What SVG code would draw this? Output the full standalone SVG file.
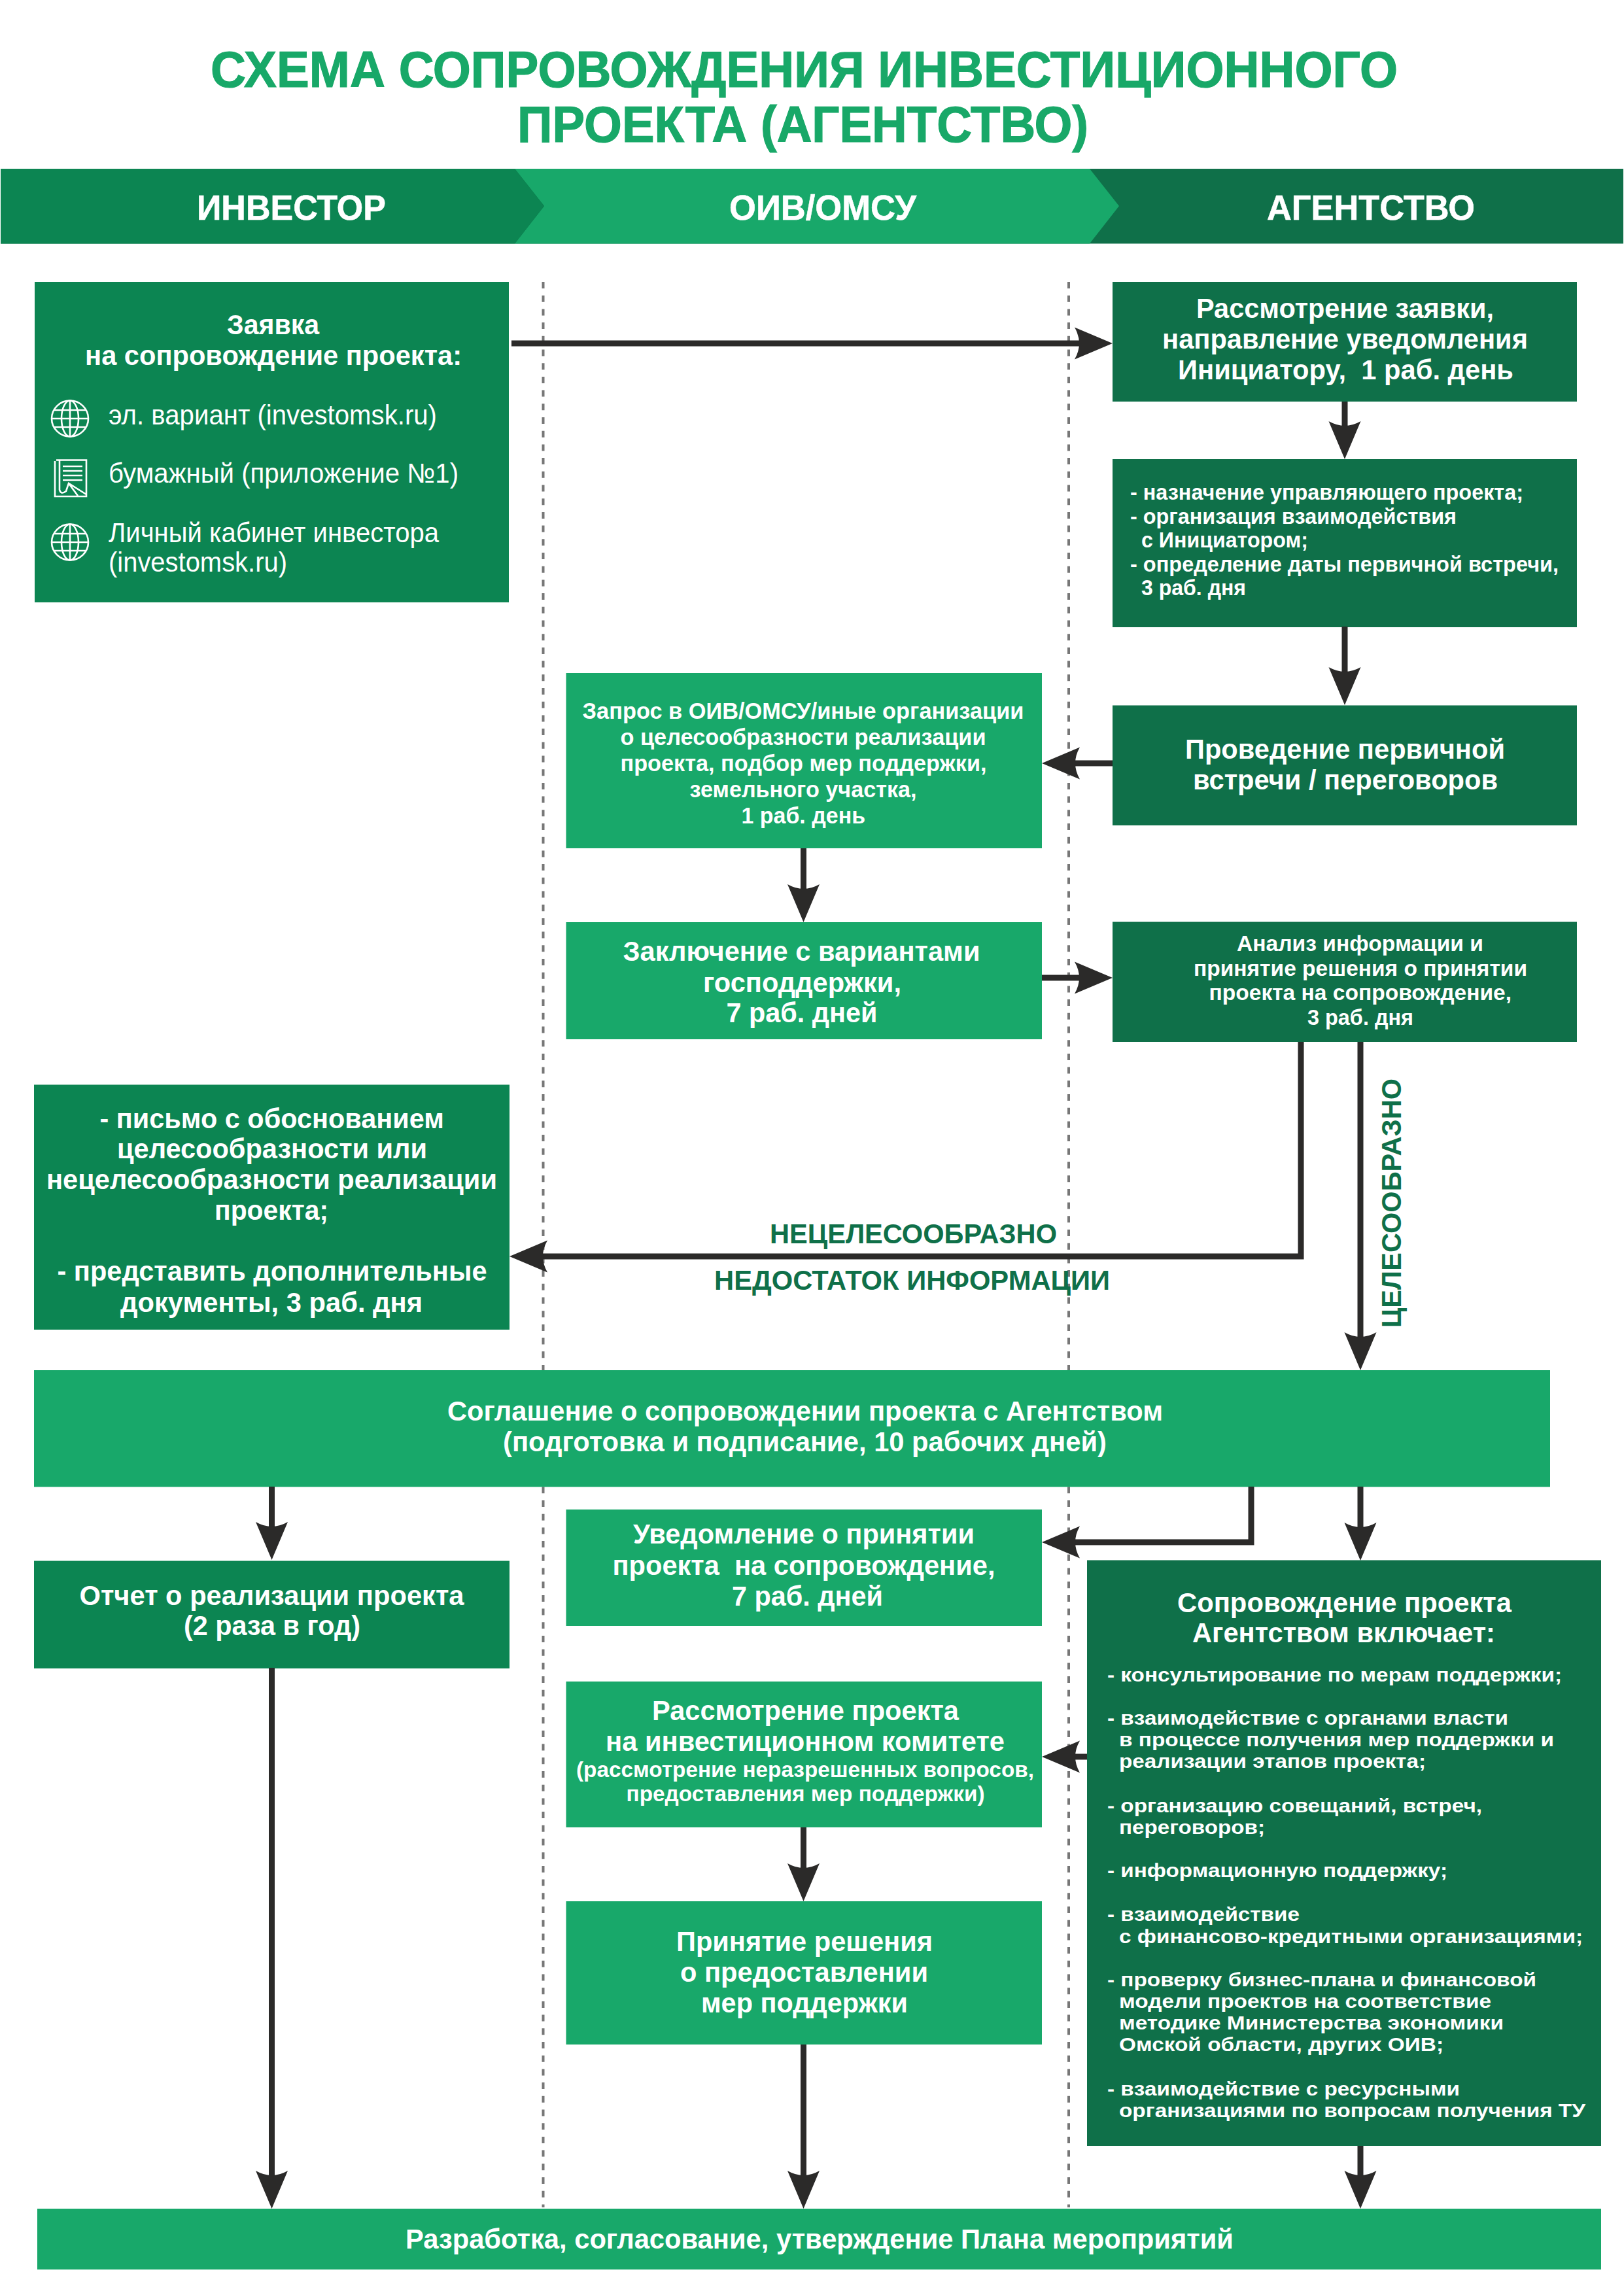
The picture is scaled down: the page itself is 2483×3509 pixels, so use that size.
<svg xmlns="http://www.w3.org/2000/svg" width="2483" height="3509" viewBox="0 0 2483 3509">
<style>
text{font-family:"Liberation Sans",Arial,sans-serif;font-weight:700;fill:#fff}
.title{font-size:77px;fill:#18a868;stroke:#18a868;stroke-width:1.2px}
.hd{font-size:54px;stroke:#fff;stroke-width:.6px}
.f43{font-size:43px}
.f42{font-size:42px}
.f35{font-size:35px}
.f33{font-size:33px}
.f30{font-size:30px}
.reg{font-size:42px;font-weight:400}
.lab{font-size:42px;fill:#0f7049}
.d1{fill:#0c8552}.d2{fill:#0f7049}.lt{fill:#18a86a}
.lane{stroke:#777;stroke-width:4;stroke-dasharray:10 10.7;fill:none}
.con{stroke:#2b2a29;stroke-width:9;fill:none;marker-end:url(#head)}
.ico{stroke:#fff;stroke-width:2.6;fill:none}
</style>
<defs>
<marker id="head" markerUnits="userSpaceOnUse" markerWidth="58" markerHeight="49" refX="12" refY="24.5" orient="auto" overflow="visible"><path d="M0,0L58,24.5L0,49Q14,24.5 0,0Z" fill="#2b2a29"/></marker>
<g id="globe"><ellipse cx="0" cy="0" rx="28" ry="27.5"/><ellipse cx="0" cy="0" rx="13" ry="27.5"/><path d="M0-27.5V27.5M-28,0H28M-24.5-13H24.5M-24.5,13H24.5"/></g>
</defs>
<rect width="2483" height="3509" fill="#fff"/>

<g id="title">
<text class="title" x="322" y="133" textLength="1815" lengthAdjust="spacingAndGlyphs">СХЕМА СОПРОВОЖДЕНИЯ ИНВЕСТИЦИОННОГО</text>
<text class="title" x="791" y="217" textLength="873" lengthAdjust="spacingAndGlyphs">ПРОЕКТА (АГЕНТСТВО)</text>
</g>

<g id="lanes">
<path class="lane" d="M830.5,431V3375"/>
<path class="lane" d="M1634,431V3375"/>
</g>

<g id="header">
<rect class="d2" x="1" y="258" width="2481" height="114.500"/>
<path class="lt" d="M787,258H1666L1711,315L1666,372.500H787L832,315Z"/>
<path class="d1" d="M1,258H787L832,315L787,372.500H1Z"/>
<text class="hd" x="301" y="336" textLength="289" lengthAdjust="spacingAndGlyphs">ИНВЕСТОР</text>
<text class="hd" x="1115" y="336" textLength="286" lengthAdjust="spacingAndGlyphs">ОИВ/ОМСУ</text>
<text class="hd" x="1937" y="336" textLength="318" lengthAdjust="spacingAndGlyphs">АГЕНТСТВО</text>
</g>

<g id="node-zayavka">
<rect class="d1" x="53" y="431" width="725" height="490"/>
<text class="f43" x="347" y="511" textLength="141" lengthAdjust="spacingAndGlyphs">Заявка</text>
<text class="f43" x="130" y="558" textLength="576" lengthAdjust="spacingAndGlyphs">на сопровождение проекта:</text>
<use href="#globe" class="ico" x="107" y="640"/>
<g class="ico"><path d="M86,703.500H132V759H84V705M91,703.500V749Q93,757 101,751L105,739L132,756M105,739L119,758"/><path d="M96,713H126M96,720H126M96,727H126M96,734H126"/></g>
<use href="#globe" class="ico" x="107" y="829"/>
<text class="reg" x="166" y="649" textLength="502" lengthAdjust="spacingAndGlyphs">эл. вариант (investomsk.ru)</text>
<text class="reg" x="166" y="738" textLength="535" lengthAdjust="spacingAndGlyphs">бумажный (приложение №1)</text>
<text class="reg" x="166" y="829" textLength="505" lengthAdjust="spacingAndGlyphs">Личный кабинет инвестора</text>
<text class="reg" x="166" y="874" textLength="273" lengthAdjust="spacingAndGlyphs">(investomsk.ru)</text>
</g>

<g id="node-rassmotrenie-zayavki">
<rect class="d2" x="1701" y="431" width="710" height="183"/>
<text class="f42" x="1829" y="485.500" textLength="455" lengthAdjust="spacingAndGlyphs">Рассмотрение заявки,</text>
<text class="f42" x="1777" y="533" textLength="559" lengthAdjust="spacingAndGlyphs">направление уведомления</text>
<text class="f42" x="1801" y="580" textLength="513" lengthAdjust="spacingAndGlyphs" xml:space="preserve">Инициатору,  1 раб. день</text>
</g>

<g id="node-naznachenie">
<rect class="d2" x="1701" y="702" width="710" height="257"/>
<text class="f33" x="1728" y="764" textLength="601" lengthAdjust="spacingAndGlyphs">- назначение управляющего проекта;</text>
<text class="f33" x="1728" y="800.500" textLength="499" lengthAdjust="spacingAndGlyphs">- организация взаимодействия</text>
<text class="f33" x="1745" y="837" textLength="255" lengthAdjust="spacingAndGlyphs">с Инициатором;</text>
<text class="f33" x="1728" y="874" textLength="655" lengthAdjust="spacingAndGlyphs">- определение даты первичной встречи,</text>
<text class="f33" x="1745" y="910" textLength="160" lengthAdjust="spacingAndGlyphs">3 раб. дня</text>
</g>

<g id="node-vstrecha">
<rect class="d2" x="1701" y="1078.500" width="710" height="183.500"/>
<text class="f42" x="1812" y="1160" textLength="489" lengthAdjust="spacingAndGlyphs">Проведение первичной</text>
<text class="f42" x="1824" y="1206.500" textLength="466" lengthAdjust="spacingAndGlyphs">встречи / переговоров</text>
</g>

<g id="node-zapros">
<rect class="lt" x="865.500" y="1029" width="727.500" height="268"/>
<text class="f35" x="890.500" y="1098.500" textLength="675" lengthAdjust="spacingAndGlyphs">Запрос в ОИВ/ОМСУ/иные организации</text>
<text class="f35" x="948.500" y="1138.500" textLength="559" lengthAdjust="spacingAndGlyphs">о целесообразности реализации</text>
<text class="f35" x="948.500" y="1179" textLength="560" lengthAdjust="spacingAndGlyphs">проекта, подбор мер поддержки,</text>
<text class="f35" x="1054.500" y="1219" textLength="347" lengthAdjust="spacingAndGlyphs">земельного участка,</text>
<text class="f35" x="1133.500" y="1259" textLength="189.500" lengthAdjust="spacingAndGlyphs">1 раб. день</text>
</g>

<g id="node-zaklyuchenie">
<rect class="lt" x="865.500" y="1410" width="727.500" height="179"/>
<text class="f42" x="952.500" y="1469" textLength="546" lengthAdjust="spacingAndGlyphs">Заключение с вариантами</text>
<text class="f42" x="1075" y="1516.500" textLength="303" lengthAdjust="spacingAndGlyphs">господдержки,</text>
<text class="f42" x="1110.500" y="1563" textLength="231" lengthAdjust="spacingAndGlyphs">7 раб. дней</text>
</g>

<g id="node-analiz">
<rect class="d2" x="1701" y="1409.500" width="710" height="183.500"/>
<text class="f33" x="1891" y="1453.500" textLength="377" lengthAdjust="spacingAndGlyphs">Анализ информации и</text>
<text class="f33" x="1825" y="1491.500" textLength="510" lengthAdjust="spacingAndGlyphs">принятие решения о принятии</text>
<text class="f33" x="1848.500" y="1529" textLength="462.500" lengthAdjust="spacingAndGlyphs">проекта на сопровождение,</text>
<text class="f33" x="1999" y="1567" textLength="162" lengthAdjust="spacingAndGlyphs">3 раб. дня</text>
</g>

<g id="node-pismo">
<rect class="d1" x="52" y="1658.500" width="727" height="374.500"/>
<text class="f42" x="152.500" y="1724.500" textLength="526.500" lengthAdjust="spacingAndGlyphs">- письмо с обоснованием</text>
<text class="f42" x="179" y="1771" textLength="474" lengthAdjust="spacingAndGlyphs">целесообразности или</text>
<text class="f42" x="71" y="1818" textLength="689" lengthAdjust="spacingAndGlyphs">нецелесообразности реализации</text>
<text class="f42" x="328" y="1865" textLength="174" lengthAdjust="spacingAndGlyphs">проекта;</text>
<text class="f42" x="87.500" y="1957.500" textLength="657" lengthAdjust="spacingAndGlyphs">- представить дополнительные</text>
<text class="f42" x="184" y="2006" textLength="462" lengthAdjust="spacingAndGlyphs">документы, 3 раб. дня</text>
</g>

<g id="node-soglashenie">
<rect class="lt" x="52" y="2095" width="2318" height="178.500"/>
<text class="f42" x="684" y="2171.500" textLength="1094" lengthAdjust="spacingAndGlyphs">Соглашение о сопровождении проекта с Агентством</text>
<text class="f42" x="769" y="2218.500" textLength="923" lengthAdjust="spacingAndGlyphs">(подготовка и подписание, 10 рабочих дней)</text>
</g>

<g id="node-otchet">
<rect class="d1" x="52" y="2386.500" width="727" height="164.500"/>
<text class="f42" x="121.500" y="2453.500" textLength="588" lengthAdjust="spacingAndGlyphs">Отчет о реализации проекта</text>
<text class="f42" x="281" y="2500" textLength="270" lengthAdjust="spacingAndGlyphs">(2 раза в год)</text>
</g>

<g id="node-uvedomlenie">
<rect class="lt" x="865.500" y="2308" width="727.500" height="178"/>
<text class="f42" x="968" y="2360" textLength="522" lengthAdjust="spacingAndGlyphs">Уведомление о принятии</text>
<text class="f42" x="936.500" y="2408" textLength="585" lengthAdjust="spacingAndGlyphs" xml:space="preserve">проекта  на сопровождение,</text>
<text class="f42" x="1119" y="2455" textLength="231" lengthAdjust="spacingAndGlyphs">7 раб. дней</text>
</g>

<g id="node-komitet">
<rect class="lt" x="865.500" y="2571" width="727.500" height="223"/>
<text class="f42" x="997" y="2629.500" textLength="469" lengthAdjust="spacingAndGlyphs">Рассмотрение проекта</text>
<text class="f42" x="926" y="2677" textLength="610" lengthAdjust="spacingAndGlyphs">на инвестиционном комитете</text>
<text class="f33" x="881" y="2716.500" textLength="700" lengthAdjust="spacingAndGlyphs">(рассмотрение неразрешенных вопросов,</text>
<text class="f33" x="957.500" y="2754" textLength="548" lengthAdjust="spacingAndGlyphs">предоставления мер поддержки)</text>
</g>

<g id="node-reshenie">
<rect class="lt" x="865.500" y="2907" width="727.500" height="219"/>
<text class="f42" x="1034" y="2983" textLength="392" lengthAdjust="spacingAndGlyphs">Принятие решения</text>
<text class="f42" x="1040" y="3030" textLength="379" lengthAdjust="spacingAndGlyphs">о предоставлении</text>
<text class="f42" x="1072" y="3077" textLength="316" lengthAdjust="spacingAndGlyphs">мер поддержки</text>
</g>

<g id="node-soprovozhdenie">
<rect class="d2" x="1662" y="2385.500" width="786" height="895.500"/>
<text class="f42" x="1800" y="2465" textLength="511" lengthAdjust="spacingAndGlyphs">Сопровождение проекта</text>
<text class="f42" x="1823" y="2511" textLength="463" lengthAdjust="spacingAndGlyphs">Агентством включает:</text>
<text class="f30" x="1693" y="2570.500" textLength="695" lengthAdjust="spacingAndGlyphs">- консультирование по мерам поддержки;</text>
<text class="f30" x="1693" y="2637" textLength="613" lengthAdjust="spacingAndGlyphs">- взаимодействие с органами власти</text>
<text class="f30" x="1711" y="2670" textLength="665" lengthAdjust="spacingAndGlyphs">в процессе получения мер поддержки и</text>
<text class="f30" x="1711" y="2703" textLength="469" lengthAdjust="spacingAndGlyphs">реализации этапов проекта;</text>
<text class="f30" x="1693" y="2770.500" textLength="573" lengthAdjust="spacingAndGlyphs">- организацию совещаний, встреч,</text>
<text class="f30" x="1711" y="2804" textLength="223" lengthAdjust="spacingAndGlyphs">переговоров;</text>
<text class="f30" x="1693" y="2870" textLength="520" lengthAdjust="spacingAndGlyphs">- информационную поддержку;</text>
<text class="f30" x="1693" y="2936.500" textLength="294" lengthAdjust="spacingAndGlyphs">- взаимодействие</text>
<text class="f30" x="1711" y="2971" textLength="709" lengthAdjust="spacingAndGlyphs">с финансово-кредитными организациями;</text>
<text class="f30" x="1693" y="3036.500" textLength="656" lengthAdjust="spacingAndGlyphs">- проверку бизнес-плана и финансовой</text>
<text class="f30" x="1711" y="3070" textLength="569" lengthAdjust="spacingAndGlyphs">модели проектов на соответствие</text>
<text class="f30" x="1711" y="3103" textLength="588" lengthAdjust="spacingAndGlyphs">методике Министерства экономики</text>
<text class="f30" x="1711" y="3136" textLength="496" lengthAdjust="spacingAndGlyphs">Омской области, других ОИВ;</text>
<text class="f30" x="1693" y="3203.500" textLength="539" lengthAdjust="spacingAndGlyphs">- взаимодействие с ресурсными</text>
<text class="f30" x="1711" y="3237" textLength="713" lengthAdjust="spacingAndGlyphs">организациями по вопросам получения ТУ</text>
</g>

<g id="node-plan">
<rect class="lt" x="57" y="3377" width="2391" height="93"/>
<text class="f42" x="620" y="3438" textLength="1266" lengthAdjust="spacingAndGlyphs">Разработка, согласование, утверждение Плана мероприятий</text>
</g>

<g id="connectors">
<path class="con" d="M782,525H1655"/>
<path class="con" d="M2056,614V656"/>
<path class="con" d="M2056,958V1032"/>
<path class="con" d="M1701,1167H1639"/>
<path class="con" d="M1228.500,1297V1364"/>
<path class="con" d="M1593,1495H1655"/>
<path class="con" d="M1989,1593V1921H825"/>
<path class="con" d="M2080,1593V2049"/>
<path class="con" d="M415.500,2273V2339"/>
<path class="con" d="M1913,2273V2358H1639"/>
<path class="con" d="M2080,2273V2340"/>
<path class="con" d="M1662,2686H1639"/>
<path class="con" d="M1228.500,2794V2861"/>
<path class="con" d="M415.500,2550V3331"/>
<path class="con" d="M1228.500,3126V3331"/>
<path class="con" d="M2080,3281V3331"/>
</g>

<g id="labels">
<text class="lab" x="1177" y="1901" textLength="439" lengthAdjust="spacingAndGlyphs">НЕЦЕЛЕСООБРАЗНО</text>
<text class="lab" x="1092" y="1972" textLength="605" lengthAdjust="spacingAndGlyphs">НЕДОСТАТОК ИНФОРМАЦИИ</text>
<text class="lab" x="0" y="0" transform="translate(2142,2030) rotate(-90)" textLength="381" lengthAdjust="spacingAndGlyphs">ЦЕЛЕСООБРАЗНО</text>
</g>
</svg>
